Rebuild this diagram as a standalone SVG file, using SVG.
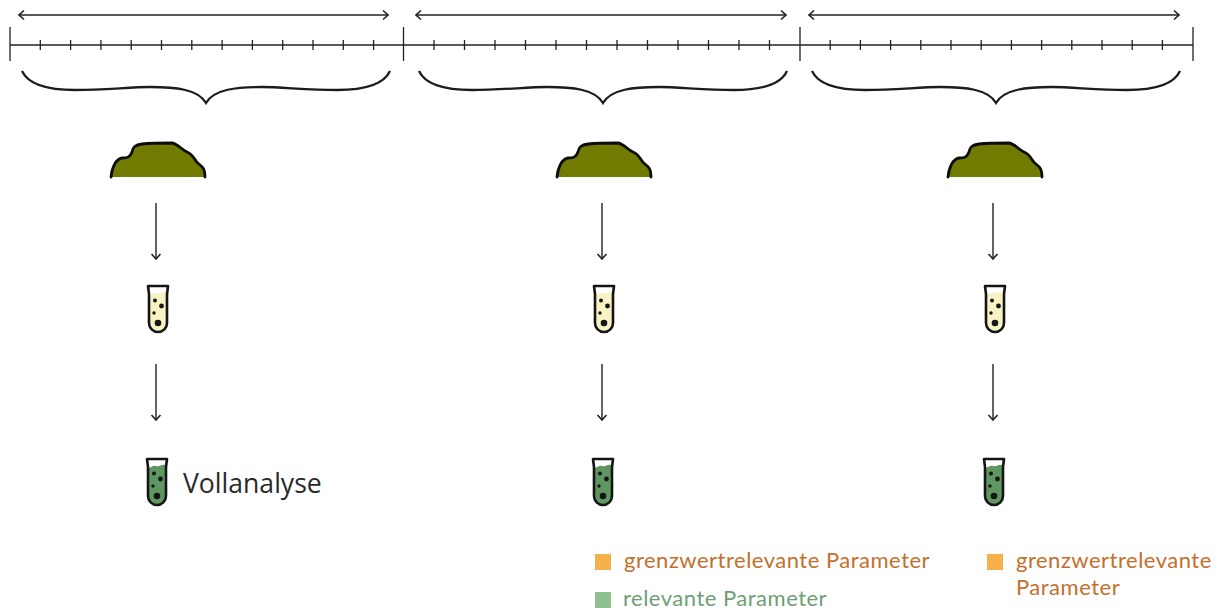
<svg xmlns="http://www.w3.org/2000/svg" width="1222" height="610" viewBox="0 0 1222 610">
<style>
.ln{fill:none;stroke:#222;stroke-width:1.4}
.tick{stroke:#222;stroke-width:1.3;fill:none}
.brace{fill:none;stroke:#1c1c1c;stroke-width:2.3}
.heap{fill:#717b00;stroke:none}
.heapl{fill:none;stroke:#0d0d0d;stroke-width:2.8;stroke-linejoin:round;stroke-linecap:round}
.outl{fill:none;stroke:#151515;stroke-width:2.600;stroke-linejoin:round}
.dot{fill:#151515}
.or{font-family:Lato,"Noto Sans",sans-serif;font-size:22px;fill:#c4702c;letter-spacing:.5px}
.gr{font-family:Lato,"Noto Sans",sans-serif;font-size:22px;fill:#6f9e76;letter-spacing:.5px}
</style>
<defs>
<marker id="ah" viewBox="0 0 10 12" refX="9" refY="6" markerWidth="10" markerHeight="12" markerUnits="userSpaceOnUse" orient="auto-start-reverse"><path d="M4 1.500 L9 6 L4 10.500" fill="none" stroke="#222" stroke-width="1.6"/></marker>
<path id="brace" class="brace" d="M22 71 C28 84 45 90 75 90 C105 90 130 87 150 87 C175 87 198 89 206 103 C214 89 237 87 262 87 C282 87 307 90 337 90 C367 90 384 84 390 71"/>
<g id="heap">
<path class="heap" d="M111 177 C112 167 116 159 122 158 C128 158 130 157 132 152 C133 147 135 145 142 144 C152 143 164 143 172 143 C178 144 182 150 187 152 C192 154 194 158 196 161 C198 164 201 165 203 168 C205 171 205 174 205 177 Z"/>
<path class="heapl" d="M111 177 C112 167 116 159 122 158 C128 158 130 157 132 152 C133 147 135 145 142 144 C152 143 164 143 172 143 C178 144 182 150 187 152 C192 154 194 158 196 161 C198 164 201 165 203 168 C205 171 205 174 205 177"/>
</g>
<g id="tube-y">
<path d="M149 290 L167 290 L167 323 A9 9 0 0 1 149 323 Z" fill="#f7f3c4"/>
<path d="M149 286 L167 286 L166 292 C162 291 161 294 157 293 C154 292 153 294 150 295 Z" fill="#fff"/>
<path class="outl" d="M148 286 L168 286 L167 294 L167 323 A9 9 0 0 1 149 323 L149 294 Z"/>
<circle class="dot" cx="155" cy="300.500" r="2"/><circle class="dot" cx="161.500" cy="306" r="2.400"/><circle class="dot" cx="154" cy="313" r="1.700"/><circle class="dot" cx="158" cy="323" r="3.300"/>
</g>
<g id="tube-g">
<path d="M148 463 L166 463 L166 496 A9 9 0 0 1 148 496 Z" fill="#5f9762"/>
<path d="M148 459 L166 459 L165 465 C161 464 160 467 156 466 C153 465 152 467 149 468 Z" fill="#fff"/>
<path class="outl" d="M147 459 L167 459 L166 467 L166 496 A9 9 0 0 1 148 496 L148 467 Z"/>
<circle class="dot" cx="154" cy="473.500" r="2"/><circle class="dot" cx="160.500" cy="479" r="2.400"/><circle class="dot" cx="153" cy="486" r="1.700"/><circle class="dot" cx="157" cy="496" r="3.300"/>
</g>
</defs>
<g id="connectors">
<path class="ln" marker-start="url(#ah)" marker-end="url(#ah)" d="M19 15 H388"/>
<path class="ln" marker-start="url(#ah)" marker-end="url(#ah)" d="M416 15 H786"/>
<path class="ln" marker-start="url(#ah)" marker-end="url(#ah)" d="M809 15 H1179"/>
<path class="ln" marker-end="url(#ah)" d="M156 203 V259"/>
<path class="ln" marker-end="url(#ah)" d="M156 364 V420"/>
<path class="ln" marker-end="url(#ah)" d="M602 203 V259"/>
<path class="ln" marker-end="url(#ah)" d="M602 364 V420"/>
<path class="ln" marker-end="url(#ah)" d="M993 203 V259"/>
<path class="ln" marker-end="url(#ah)" d="M993 364 V420"/>
</g>
<g id="timeline">
<path class="tick" d="M10 45 H1193"/>
<path class="tick" d="M10 27 V61 M403.500 27 V61 M800 27 V61 M1193 27 V61"/>
<path class="tick" d="M40.300 40 V50 M70.600 40 V50 M100.900 40 V50 M131.200 40 V50 M161.500 40 V50 M191.800 40 V50 M222.100 40 V50 M252.400 40 V50 M282.700 40 V50 M313 40 V50 M343.300 40 V50 M373.600 40 V50"/>
<path class="tick" d="M434 40 V50 M464.500 40 V50 M495 40 V50 M525.500 40 V50 M556 40 V50 M586.500 40 V50 M617 40 V50 M647.500 40 V50 M678 40 V50 M708.500 40 V50 M739 40 V50 M769.500 40 V50"/>
<path class="tick" d="M830.200 40 V50 M860.400 40 V50 M890.600 40 V50 M920.800 40 V50 M951 40 V50 M981.200 40 V50 M1011.400 40 V50 M1041.600 40 V50 M1071.800 40 V50 M1102 40 V50 M1132.200 40 V50 M1162.400 40 V50"/>
</g>
<g id="brace-1"><use href="#brace"/></g>
<g id="brace-2"><use href="#brace" x="397"/></g>
<g id="brace-3"><use href="#brace" x="790"/></g>
<g id="heap-1"><use href="#heap"/></g>
<g id="heap-2"><use href="#heap" x="446"/></g>
<g id="heap-3"><use href="#heap" x="837"/></g>
<g id="sample-1"><use href="#tube-y"/></g>
<g id="sample-2"><use href="#tube-y" x="446"/></g>
<g id="sample-3"><use href="#tube-y" x="837"/></g>
<g id="analysis-1"><use href="#tube-g"/>
<text x="183" y="493" font-family="'Open Sans','Noto Sans',sans-serif" font-size="26.600" fill="#2a2a2a">Vollanalyse</text></g>
<g id="analysis-2"><use href="#tube-g" x="446"/></g>
<g id="analysis-3"><use href="#tube-g" x="837"/></g>
<g id="legend-2">
<rect x="595" y="554" width="16" height="16" fill="#f5b04c"/>
<text class="or" x="624" y="568">grenzwertrelevante Parameter</text>
<rect x="595" y="592" width="16" height="16" fill="#8cc08f"/>
<text class="gr" x="623" y="606">relevante Parameter</text>
</g>
<g id="legend-3">
<rect x="987" y="554" width="16" height="16" fill="#f5b04c"/>
<text class="or" x="1016" y="568">grenzwertrelevante</text>
<text class="or" x="1016" y="594.500">Parameter</text>
</g>
</svg>
